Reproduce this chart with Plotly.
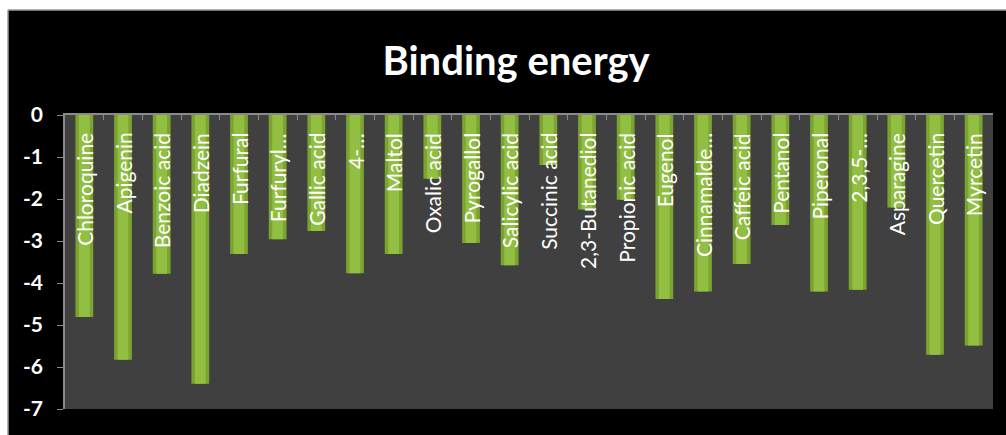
import plotly.graph_objects as go

categories = ["Chloroquine", "Apigenin", "Benzoic acid", "Diadzein", "Furfural", "Furfuryl…",
              "Gallic acid", "4-…", "Maltol", "Oxalic acid", "Pyrogallol", "Salicylic acid",
              "Succinic acid", "2,3-Butanediol", "Propionic acid", "Eugenol", "Cinnamalde…",
              "Caffeic acid", "Pentanol", "Piperonal", "2,3,5-…", "Asparagine", "Quercetin", "Myrcetin"]
values = [-4.81, -5.83, -3.78, -6.40, -3.31, -2.96,
          -2.76, -3.77, -3.31, -1.52, -3.05, -3.58,
          -1.19, -2.25, -2.02, -4.38, -4.20,
          -3.55, -2.62, -4.20, -4.16, -2.20, -5.71, -5.49]
tick_vals = [0, -1, -2, -3, -4, -5, -6, -7]
tick_text = ["0", "-1", "-2", "-3", "-4", "-5", "-6", "-7"]

W, H = 1006, 435
ml, mr, mt, mb = 65, 13, 115, 26
pw, ph = W - ml - mr, H - mt - mb

def px(x):
    return (x - ml) / pw

def py(y):
    return (H - mb - y) / ph

fig = go.Figure()
fig.add_trace(go.Bar(
    x=categories, y=values, width=0.46,
    marker=dict(color="#7aa330", line=dict(width=0)),
    hoverinfo="x+y",
))
fig.add_trace(go.Bar(
    x=categories, y=values, width=0.28,
    marker=dict(color="#92be42", line=dict(width=0)),
    hoverinfo="skip",
))

for c in categories:
    fig.add_annotation(
        x=c, y=0, xref="x", yref="y",
        text=c, textangle=-90, showarrow=False,
        yanchor="top", xanchor="center", yshift=-16,
        font=dict(family="Lato", size=21, color="white"),
    )

shapes = [
    dict(type="rect", xref="paper", yref="paper", x0=px(0), x1=px(8), y0=py(H), y1=py(0),
         fillcolor="white", line=dict(width=0), layer="above"),
    dict(type="rect", xref="paper", yref="paper", x0=px(0), x1=px(W), y0=py(10), y1=py(0),
         fillcolor="white", line=dict(width=0), layer="above"),
    dict(type="line", xref="paper", yref="paper", x0=px(8), x1=px(8), y0=py(H), y1=py(10),
         line=dict(color="#9a9a9a", width=1.5), layer="above"),
    dict(type="line", xref="paper", yref="paper", x0=px(8), x1=px(W), y0=py(10), y1=py(10),
         line=dict(color="#9a9a9a", width=1.5), layer="above"),
]

fig.update_layout(
    width=W, height=H,
    margin=dict(l=ml, r=mr, t=mt, b=mb),
    paper_bgcolor="black",
    plot_bgcolor="#404040",
    barmode="overlay",
    showlegend=False,
    shapes=shapes,
    title=dict(text="<b>Binding energy</b>", x=0.513, xref="container", xanchor="center",
               y=1 - 61 / H, yref="container", yanchor="middle",
               font=dict(family="Lato", size=40, color="white")),
    xaxis=dict(side="top", showticklabels=False, showline=True, linecolor="#8a8a8a", linewidth=1.5,
               ticks="inside", tickson="boundaries", ticklen=5, tickcolor="#8a8a8a",
               showgrid=False, zeroline=False, range=[-0.5, len(categories) - 0.5]),
    yaxis=dict(range=[-7, 0], tickvals=tick_vals, ticktext=tick_text, showgrid=False, zeroline=False,
               showline=True, linecolor="#8a8a8a", linewidth=1.5, ticks="outside", ticklen=6,
               tickcolor="#8a8a8a", ticklabelstandoff=10,
               tickfont=dict(family="Lato", size=21, color="white", weight="bold")),
)

fig.write_html("out.html")
